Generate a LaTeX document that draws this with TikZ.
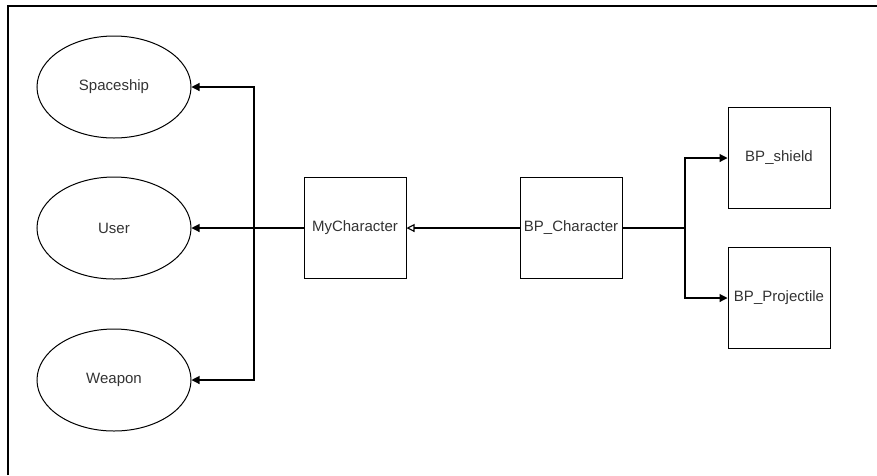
\documentclass[tikz,border=0pt]{standalone}
\usepackage{fontspec}
\setmainfont{Liberation Sans}
\usetikzlibrary{shapes.geometric,arrows.meta}
\definecolor{txt}{HTML}{333333}
\begin{document}
\begin{tikzpicture}[x=1pt,y=-1pt,
  every node/.style={font=\fontsize{15}{18}\selectfont, text=txt},
  ell/.style={draw, ellipse, line width=1pt, minimum width=154pt, minimum height=102pt, inner sep=0pt},
  box/.style={draw, rectangle, line width=1pt, minimum width=102pt, minimum height=101pt, inner sep=0pt},
  conn/.style={line width=1.1pt},
  fa/.style={conn, -{Triangle[length=8pt,width=8pt]}},
  oa/.style={conn, -{Triangle[open,length=8pt,width=8pt,fill=white]}}]
\useasboundingbox (0,0) rectangle (877,475);
\draw[line width=2pt] (8,475) -- (8,6) -- (877,6);
\node[ell] (sp) at (114,87) {Spaceship};
\node[ell] (us) at (114,228) {User};
\node[ell] (we) at (114,380) {Weapon};
\node[box] (my) at (355,228) {MyCharacter};
\node[box] (bp) at (571,228) {BP\_Character};
\node[box] (sh) at (779,158) {BP\_shield};
\node[box] (pr) at (779,298) {BP\_Projectile};
\coordinate (jl) at (254,228);
\coordinate (jr) at (685,228);
\draw[fa] (my.west) -- (us.east);
\draw[fa] (jl) -- (jl |- sp.east) -- (sp.east);
\draw[fa] (jl) -- (jl |- we.east) -- (we.east);
\draw[oa] (bp.west) -- (my.east);
\draw[conn] (bp.east) -- (jr);
\draw[fa] (jr) -- (jr |- sh.west) -- (sh.west);
\draw[fa] (jr) -- (jr |- pr.west) -- (pr.west);
\end{tikzpicture}
\end{document}
